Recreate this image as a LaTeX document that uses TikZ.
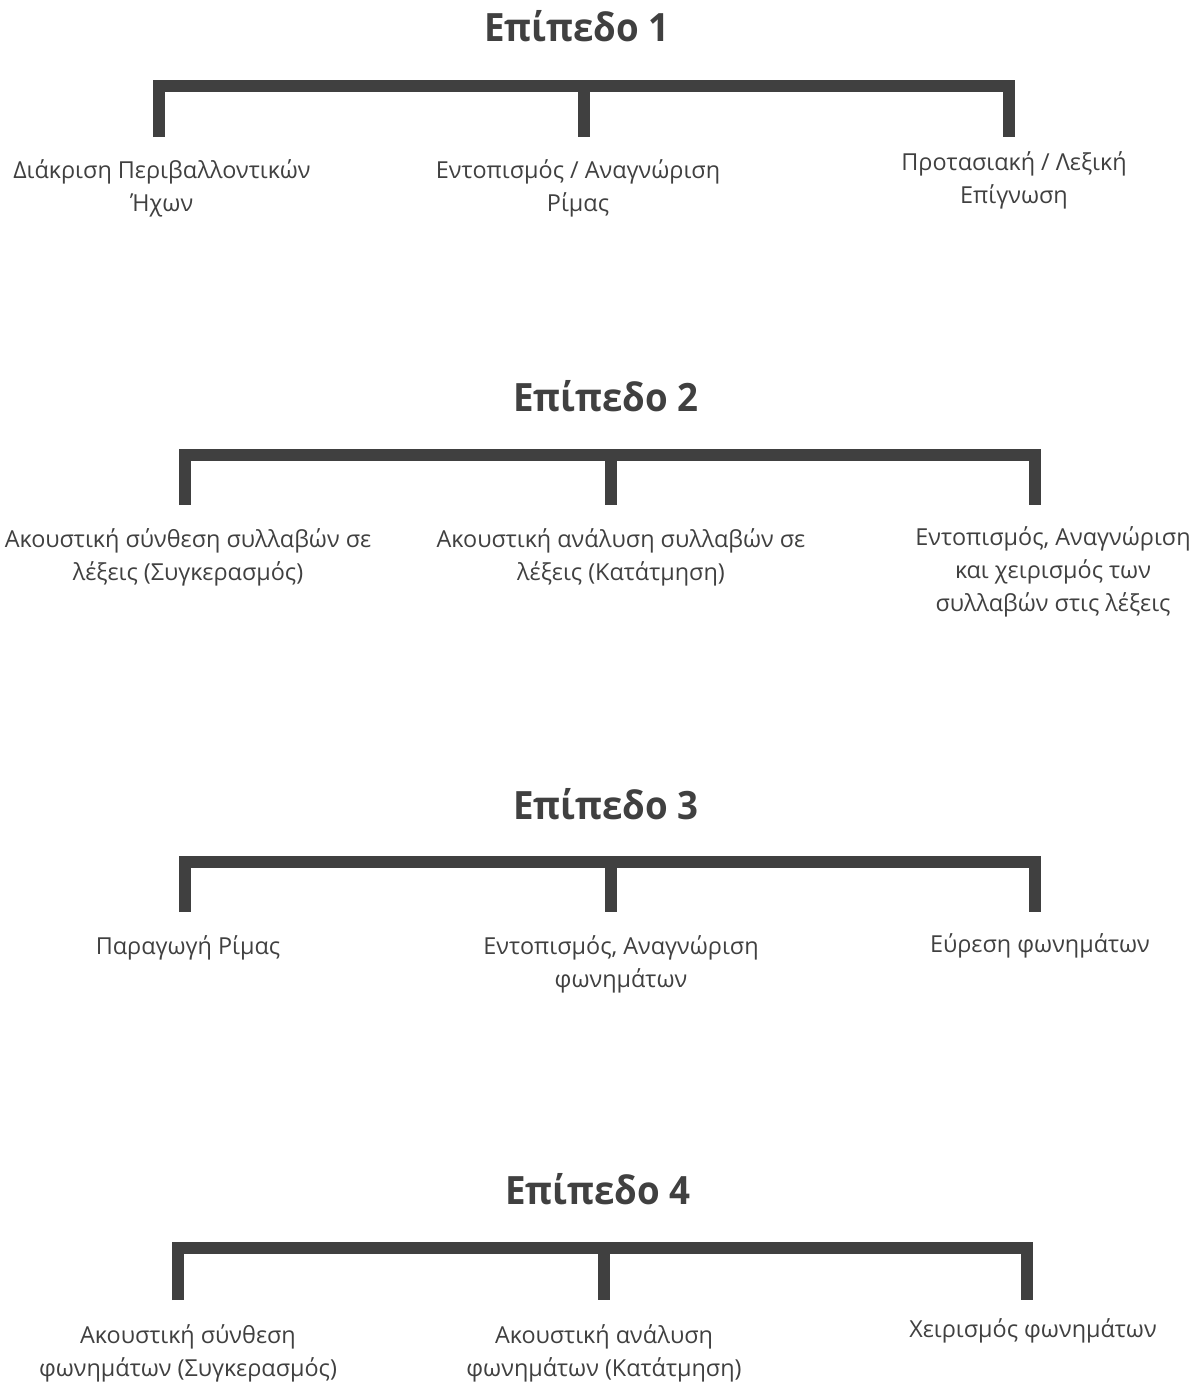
\documentclass[tikz,border=0pt]{standalone}
\usepackage{fontspec}
\setmainfont{Open Sans}
\newfontfamily\headfont[FakeStretch=0.94]{Open Sans}
\definecolor{ink}{HTML}{404040}
\definecolor{barc}{HTML}{404040}
\begin{document}
\begin{tikzpicture}[x=1pt,y=-1pt,
  bar/.style={draw=barc,line width=12pt,line join=miter,line cap=butt},
  title/.style={text=ink,font=\headfont\fontsize{39}{42}\selectfont\bfseries,inner sep=0pt},
  lab/.style={text=ink,font=\fontsize{23.4}{33}\selectfont,align=center,inner sep=0pt,anchor=north}]
\useasboundingbox (0,0) rectangle (1202,1382);

% ---------- Level 1 ----------
\node[title] (t1) at (577,26) {Επίπεδο 1};
\coordinate (a1) at (159,137); \coordinate (b1) at (584,137); \coordinate (c1) at (1009,137);
\coordinate (a1t) at (159,86); \coordinate (b1t) at (584,86); \coordinate (c1t) at (1009,86);
\draw[bar] (a1) -- (a1t) -- (c1t) -- (c1);
\draw[bar] (b1t) -- (b1);
\node[lab] (l1a) at (162,159) {Διάκριση Περιβαλλοντικών\\Ήχων};
\node[lab] (l1b) at (578,159) {Εντοπισμός / Αναγνώριση\\Ρίμας};
\node[lab] (l1c) at (1014,151) {Προτασιακή / Λεξική\\Επίγνωση};

% ---------- Level 2 ----------
\node[title] (t2) at (606,396) {Επίπεδο 2};
\coordinate (a2) at (185,505); \coordinate (b2) at (611,505); \coordinate (c2) at (1035,505);
\coordinate (a2t) at (185,455); \coordinate (b2t) at (611,455); \coordinate (c2t) at (1035,455);
\draw[bar] (a2) -- (a2t) -- (c2t) -- (c2);
\draw[bar] (b2t) -- (b2);
\node[lab] (l2a) at (188,528) {Ακουστική σύνθεση συλλαβών σε\\λέξεις (Συγκερασμός)};
\node[lab] (l2b) at (621,528) {Ακουστική ανάλυση συλλαβών σε\\λέξεις (Κατάτμηση)};
\node[lab] (l2c) at (1053,526) {Εντοπισμός, Αναγνώριση\\και χειρισμός των\\συλλαβών στις λέξεις};

% ---------- Level 3 ----------
\node[title] (t3) at (606,804) {Επίπεδο 3};
\coordinate (a3) at (185,912); \coordinate (b3) at (611,912); \coordinate (c3) at (1035,912);
\coordinate (a3t) at (185,862); \coordinate (b3t) at (611,862); \coordinate (c3t) at (1035,862);
\draw[bar] (a3) -- (a3t) -- (c3t) -- (c3);
\draw[bar] (b3t) -- (b3);
\node[lab] (l3a) at (188,935) {Παραγωγή Ρίμας};
\node[lab] (l3b) at (621,935) {Εντοπισμός, Αναγνώριση\\φωνημάτων};
\node[lab] (l3c) at (1040,933) {Εύρεση φωνημάτων};

% ---------- Level 4 ----------
\node[title] (t4) at (598,1189) {Επίπεδο 4};
\coordinate (a4) at (178,1300); \coordinate (b4) at (604,1300); \coordinate (c4) at (1027,1300);
\coordinate (a4t) at (178,1248); \coordinate (b4t) at (604,1248); \coordinate (c4t) at (1027,1248);
\draw[bar] (a4) -- (a4t) -- (c4t) -- (c4);
\draw[bar] (b4t) -- (b4);
\node[lab] (l4a) at (188,1324) {Ακουστική σύνθεση\\φωνημάτων (Συγκερασμός)};
\node[lab] (l4b) at (604,1324) {Ακουστική ανάλυση\\φωνημάτων (Κατάτμηση)};
\node[lab] (l4c) at (1033,1318) {Χειρισμός φωνημάτων};
\end{tikzpicture}
\end{document}
